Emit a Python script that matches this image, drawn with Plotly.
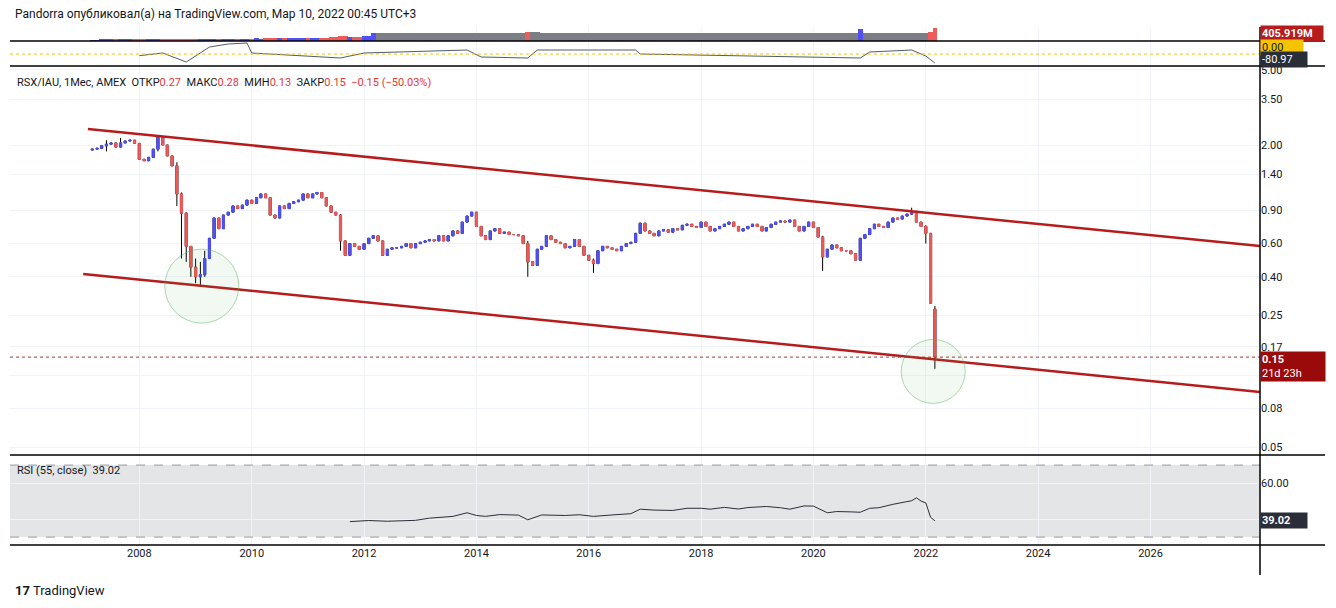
import pandas as pd
import plotly.graph_objects as go
from plotly.subplots import make_subplots

# monthly closes, Mar 2007 .. Mar 2022
close = [
    1.90, 1.92, 1.98, 2.02, 2.05, 1.95, 2.05, 2.10, 2.12, 2.04,              # 2007 (Mar-Dec)
    1.68, 1.65, 1.72, 1.90, 2.20, 2.00, 1.75, 1.55, 1.10, 0.87, 0.58, 0.45,  # 2008
    0.40, 0.41, 0.50, 0.64, 0.82, 0.72, 0.85, 0.88, 0.95, 0.92, 0.96, 1.02,  # 2009
    0.98, 1.05, 1.10, 1.05, 0.85, 0.82, 0.95, 0.92, 0.98, 1.00, 1.02, 1.10,  # 2010
    1.05, 1.10, 1.12, 1.05, 0.95, 0.88, 0.85, 0.62, 0.52, 0.60, 0.58, 0.56,  # 2011
    0.60, 0.64, 0.66, 0.62, 0.52, 0.56, 0.57, 0.57, 0.58, 0.60, 0.57, 0.60,  # 2012
    0.61, 0.62, 0.63, 0.62, 0.66, 0.62, 0.66, 0.70, 0.68, 0.78, 0.84, 0.88,  # 2013
    0.74, 0.66, 0.63, 0.70, 0.72, 0.68, 0.69, 0.67, 0.67, 0.66, 0.60, 0.48,  # 2014
    0.46, 0.56, 0.58, 0.66, 0.63, 0.61, 0.60, 0.57, 0.58, 0.63, 0.58, 0.52,  # 2015
    0.49, 0.47, 0.55, 0.58, 0.57, 0.56, 0.55, 0.58, 0.60, 0.61, 0.68, 0.77,  # 2016
    0.70, 0.68, 0.66, 0.70, 0.71, 0.69, 0.72, 0.71, 0.75, 0.76, 0.74, 0.73,  # 2017
    0.78, 0.74, 0.70, 0.72, 0.74, 0.76, 0.78, 0.74, 0.70, 0.72, 0.74, 0.76,  # 2018
    0.74, 0.70, 0.73, 0.76, 0.78, 0.79, 0.78, 0.80, 0.74, 0.70, 0.74, 0.78,  # 2019
    0.73, 0.65, 0.51, 0.56, 0.59, 0.57, 0.55, 0.55, 0.53, 0.49, 0.64, 0.67,  # 2020
    0.72, 0.76, 0.74, 0.73, 0.78, 0.82, 0.81, 0.84, 0.86, 0.89, 0.78, 0.74,  # 2021
    0.68, 0.29, 0.15,                                                        # 2022
]
first_open = 1.88
last_open = 0.27
# notable wicks (month -> (high, low))
wicks = {
    "2007-06": (2.12, 1.85), "2007-09": (2.18, 1.95), "2008-05": (2.25, 1.85),
    "2008-09": (1.62, 0.95), "2008-10": (1.12, 0.50), "2008-11": (0.88, 0.48),
    "2008-12": (0.58, 0.40), "2009-01": (0.50, 0.37), "2009-02": (0.48, 0.36),
    "2009-03": (0.55, 0.40), "2011-08": (0.86, 0.55), "2014-12": (0.62, 0.40),
    "2016-02": (0.50, 0.42), "2020-03": (0.66, 0.43), "2021-10": (0.93, 0.85),
    "2022-01": (0.75, 0.60), "2022-03": (0.28, 0.13),
}

rsi_dates = ["2011-10", "2012-02", "2012-06", "2012-12", "2013-03", "2013-08", "2013-11",
             "2014-01", "2014-03", "2014-06", "2014-10", "2014-12", "2015-03", "2015-08",
             "2015-11", "2016-02", "2016-06", "2016-10", "2016-12", "2017-03", "2017-07",
             "2017-10", "2018-01", "2018-03", "2018-06", "2018-09", "2018-11", "2019-03",
             "2019-06", "2019-08", "2019-11", "2020-01", "2020-04", "2020-06", "2020-09",
             "2020-11", "2021-01", "2021-03", "2021-06", "2021-08", "2021-10", "2021-11",
             "2021-12", "2022-01", "2022-02", "2022-03"]
rsi_vals = [38.6, 39.2, 38.8, 39.3, 40.5, 41.5, 43.5, 42.0, 41.5, 42.5, 42.2, 39.6, 42.3,
            42.0, 42.4, 41.5, 42.3, 43.0, 45.5, 45.0, 44.8, 46.0, 46.0, 45.5, 46.5, 45.6,
            46.4, 47.0, 46.3, 45.5, 47.3, 47.2, 43.5, 44.2, 44.0, 43.8, 46.0, 46.3, 48.2,
            49.3, 50.2, 51.8, 50.0, 49.0, 41.0, 39.02]

osc_dates = ["2008-01", "2008-06", "2008-11", "2009-04", "2009-08", "2009-12", "2010-01",
             "2011-08", "2012-01", "2013-11", "2014-02", "2014-12", "2015-02", "2016-11",
             "2016-12", "2020-02", "2020-11", "2021-01", "2021-10", "2022-01", "2022-03"]
osc_vals = [-15, 9, -72, 63, 90, 99, 9, -36, 9, 36, -27, -36, 36, 36, 0, -27, -36, 18,
            36, -18, -81]

# volume, millions (Mar 2007 .. Mar 2022)
volume = [
    30, 32, 35, 33, 38, 35, 36, 38, 40, 38,
    40, 42, 45, 43, 48, 46, 50, 52, 55, 58, 60, 62,
    62, 64, 66, 65, 68, 67, 70, 72, 70, 74, 76, 78,
    80, 82, 80, 84, 86, 85, 88, 90, 92, 95, 98, 100,
    102, 105, 108, 110, 112, 115, 118, 160, 150, 130, 135, 140,
    145, 150, 260, 255, 258, 256, 255, 258, 256, 257, 258, 256,
    255, 257, 256, 258, 255, 257, 256, 258, 257, 255, 256, 258,
    257, 256, 258, 255, 257, 256, 258, 257, 256, 255, 258, 300,
    290, 280, 260, 257, 256, 258, 255, 257, 256, 258, 257, 255,
    256, 258, 257, 256, 258, 255, 257, 256, 258, 257, 256, 270,
    258, 255, 257, 256, 258, 257, 256, 258, 255, 257, 256, 258,
    257, 256, 258, 255, 257, 256, 258, 257, 256, 255, 258, 257,
    256, 258, 257, 256, 258, 255, 257, 256, 258, 257, 256, 255,
    258, 257, 256, 258, 255, 257, 256, 258, 257, 256, 400, 258,
    257, 256, 258, 255, 257, 256, 258, 257, 256, 255, 258, 257,
    270, 300, 405.919,
]

UP = "#5050f5"
DOWN = "#ef5a5a"
CHANNEL = "#b71c1c"
GRID = "#f0f3fa"
TEXT = "#131722"
FONT = "Roboto, Arial, sans-serif"

months = pd.date_range("2007-03-01", periods=len(close), freq="MS")
opens = [first_open] + close[:-1]
opens[-1] = last_open
body_hi = [max(o, c) for o, c in zip(opens, close)]
body_lo = [min(o, c) for o, c in zip(opens, close)]
highs, lows = list(body_hi), list(body_lo)
for i, m in enumerate(months.strftime("%Y-%m")):
    if m in wicks:
        highs[i], lows[i] = wicks[m]

fig = make_subplots(rows=4, cols=1, shared_xaxes=True, vertical_spacing=0,
                    row_heights=[14, 25, 389, 90])

# top strip: volume + oscillator
vol_colors = [UP if c >= o else DOWN for o, c in zip(opens, close)]
vol_colors = [("#7c7e86" if m >= pd.Timestamp("2012-04-01") and v < 300 else col)
              for m, v, col in zip(months, volume, vol_colors)]
fig.add_trace(go.Bar(x=months, y=volume, marker_color=vol_colors, marker_line_width=0,
                     width=31 * 86400000, showlegend=False), row=1, col=1)
fig.add_trace(go.Scatter(x=pd.to_datetime(osc_dates), y=osc_vals, mode="lines",
                         line=dict(color="#555a66", width=1), showlegend=False), row=2, col=1)
fig.add_hline(y=0, line=dict(color="#f5c400", width=1, dash="dot"), row=2, col=1)

# candles: black wicks underneath, coloured bodies on top
fig.add_trace(go.Candlestick(x=months, open=opens, high=highs, low=lows, close=close,
                             increasing=dict(line=dict(color="#000000", width=1), fillcolor="#000000"),
                             decreasing=dict(line=dict(color="#000000", width=1), fillcolor="#000000"),
                             whiskerwidth=0, showlegend=False, hoverinfo="skip"), row=3, col=1)
fig.add_trace(go.Candlestick(x=months, open=opens, high=body_hi, low=body_lo, close=close,
                             increasing=dict(line=dict(color=UP, width=1), fillcolor=UP),
                             decreasing=dict(line=dict(color=DOWN, width=1), fillcolor=DOWN),
                             whiskerwidth=0, showlegend=False), row=3, col=1)

# channel lines
fig.add_trace(go.Scatter(x=["2007-02-01", "2027-12-14"], y=[2.43, 0.582], mode="lines",
                         line=dict(color=CHANNEL, width=2.5), showlegend=False), row=3, col=1)
fig.add_trace(go.Scatter(x=["2007-01-01", "2027-12-14"], y=[0.414, 0.098], mode="lines",
                         line=dict(color=CHANNEL, width=2.5), showlegend=False), row=3, col=1)
# highlight circles
fig.add_trace(go.Scatter(x=["2009-02-10", "2022-02-18"], y=[0.357, 0.126], mode="markers",
                         marker=dict(size=[74, 64], color="rgba(76,175,80,0.10)",
                                     line=dict(color="rgba(76,175,80,0.65)", width=1)),
                         showlegend=False, hoverinfo="skip"), row=3, col=1)
fig.add_hline(y=0.15, line=dict(color="#a33a3a", width=1, dash="dot"), row=3, col=1)

# RSI
fig.add_trace(go.Scatter(x=pd.to_datetime(rsi_dates), y=rsi_vals, mode="lines",
                         line=dict(color="#2a2e39", width=1), showlegend=False), row=4, col=1)
fig.add_shape(type="rect", xref="x4 domain", yref="y4", x0=0, x1=1, y0=30, y1=70,
              fillcolor="rgba(120,123,134,0.2)", line_width=0, layer="below")
for lvl in (30, 70):
    fig.add_shape(type="line", xref="x4 domain", yref="y4", x0=0, x1=1, y0=lvl, y1=lvl,
                  line=dict(color="#9598a1", width=1, dash="dash"))

xr = ["2005-09-12", "2027-12-14"]
year_ticks = [f"{y}-01-01" for y in range(2008, 2028, 2)]
fig.update_xaxes(range=xr, showgrid=True, gridcolor=GRID, tickvals=year_ticks,
                 ticktext=[y[:4] for y in year_ticks], showticklabels=False,
                 rangeslider_visible=False, zeroline=False, ticks="")
fig.update_xaxes(showticklabels=True, tickfont=dict(size=11, color=TEXT), row=4, col=1)
fig.update_yaxes(side="right", showgrid=True, gridcolor=GRID, zeroline=False,
                 tickfont=dict(size=11, color=TEXT))
fig.update_yaxes(range=[0, 450], showticklabels=False, showgrid=False, row=1, col=1)
fig.update_yaxes(range=[-108, 117], showticklabels=False, showgrid=False, row=2, col=1)
fig.update_yaxes(type="log", range=[-1.343, 0.720],
                 tickvals=[5, 3.5, 2, 1.4, 0.9, 0.6, 0.4, 0.25, 0.17, 0.12, 0.08, 0.05],
                 ticktext=["5.00", "3.50", "2.00", "1.40", "0.90", "0.60", "0.40", "0.25",
                           "0.17", "", "0.08", "0.05"], row=3, col=1)
fig.update_yaxes(range=[25.6, 75.6], tickvals=[40, 60], ticktext=["", "60.00"], row=4, col=1)

# pane separators and price scale border
for yp in (41, 66, 455, 545):
    fig.add_shape(type="line", xref="paper", yref="paper", x0=0, x1=1.052,
                  y0=(545 - yp) / 518, y1=(545 - yp) / 518, line=dict(color="#000", width=1.5))
fig.add_shape(type="line", xref="paper", yref="paper", x0=1, x1=1, y0=-0.058, y1=1,
              line=dict(color="#000", width=1.5))


def tag(yp, text, bg, fg="white", w=60):
    fig.add_annotation(xref="paper", yref="paper", x=1.0, y=(545 - yp) / 518, text=text,
                       xanchor="left", yanchor="middle", showarrow=False, align="left",
                       font=dict(size=11, color=fg, family=FONT), bgcolor=bg, width=w,
                       borderpad=1)


tag(34, "<b>405.919M</b>", "#b71c1c")
tag(47, "0.00", "#f5c400", fg=TEXT, w=40)
tag(60, "-80.97", "#2a2e39", w=44)
tag(366, "<b>0.15</b><br>21d 23h", "#9b0a0a", w=62)
tag(520, "<b>39.02</b>", "#2a2e39", w=44)

red = "color:#e53935"
fig.add_annotation(xref="paper", yref="paper", x=0.004, y=(545 - 82) / 518, xanchor="left",
                   yanchor="middle", showarrow=False, font=dict(size=11, color=TEXT, family=FONT),
                   text=(f"RSX/IAU, 1Мес, AMEX  ОТКР<span style='{red}'>0.27</span>  "
                         f"МАКС<span style='{red}'>0.28</span>  МИН<span style='{red}'>0.13</span>  "
                         f"ЗАКР<span style='{red}'>0.15</span>  <span style='{red}'>−0.15 (−50.03%)</span>"))
fig.add_annotation(xref="paper", yref="paper", x=0.004, y=(545 - 470) / 518, xanchor="left",
                   yanchor="middle", showarrow=False, font=dict(size=11, color=TEXT, family=FONT),
                   text="RSI (55, close)  39.02")
fig.add_annotation(xref="paper", yref="paper", x=0.002, y=(545 - 14) / 518, xanchor="left",
                   yanchor="middle", showarrow=False, font=dict(size=12, color=TEXT, family=FONT),
                   text="Pandorra опубликовал(а) на TradingView.com, Мар 10, 2022 00:45 UTC+3")
fig.add_annotation(xref="paper", yref="paper", x=0.002, y=(545 - 590) / 518, xanchor="left",
                   yanchor="middle", showarrow=False, font=dict(size=13, color=TEXT, family=FONT),
                   text="<b>17</b> TradingView")

# the page body has an 8px margin, so the figure is 8px smaller and offset
fig.update_layout(width=1328, height=600, paper_bgcolor="white", plot_bgcolor="white",
                  margin=dict(l=2, r=76, t=19, b=63), font=dict(family=FONT, color=TEXT),
                  bargap=0, showlegend=False)

fig.write_html("out.html")
